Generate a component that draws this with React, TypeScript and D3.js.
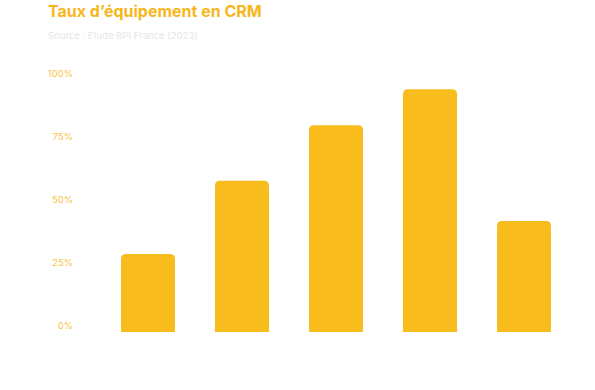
import React from 'react';
import * as d3 from 'd3';

// Chart values
const categories = ['A', 'B', 'C', 'D', 'E'];
const rates = [0.31, 0.6, 0.82, 0.963, 0.44];
const yTicks = [0, 0.25, 0.5, 0.75, 1];

const title = 'Taux d\u2019équipement en CRM';
const subtitle = 'Source : Etude BPI France (2023)';

const W = 595;
const H = 390;
const BAR = '#F8BC1D';
const LABEL = '#F8C544';

// path for a bar with rounded top corners only
const topRounded = (x: number, y: number, w: number, h: number, r: number) => {
  const rr = Math.min(r, h, w / 2);
  return `M${x},${y + h}V${y + rr}Q${x},${y} ${x + rr},${y}H${x + w - rr}Q${x + w},${y} ${x + w},${y + rr}V${y + h}Z`;
};

const App: React.FC = () => {
  const x = d3.scaleBand<string>()
    .domain(categories)
    .range([101, 571])
    .paddingInner(40 / 94)
    .paddingOuter(20 / 94);

  const y = d3.scaleLinear().domain([0, 1]).range([332, 80]);
  const fmt = d3.format('.0%');

  return (
    <svg
      width={W}
      height={H}
      style={{ position: 'absolute', left: 0, top: 0, background: '#fff' }}
      fontFamily="Inter, 'Noto Sans', sans-serif"
    >
      <text x={48} y={17} fontSize={16} fontWeight={700} fill="#F6B71B">
        {title}
      </text>
      <text x={48} y={39} fontSize={9.5} fill="#E6E6E6">
        {subtitle}
      </text>

      {yTicks.map(t => (
        <text
          key={t}
          x={73}
          y={y(t) - 6.5}
          dy="0.35em"
          textAnchor="end"
          fontSize={9.5}
          fill={LABEL}
        >
          {fmt(t)}
        </text>
      ))}

      {categories.map((c, i) => {
        const bx = x(c) ?? 0;
        const by = y(rates[i]);
        return (
          <path
            key={c}
            d={topRounded(bx, by, x.bandwidth(), y(0) - by, 5)}
            fill={BAR}
          />
        );
      })}
    </svg>
  );
};

export default App;
